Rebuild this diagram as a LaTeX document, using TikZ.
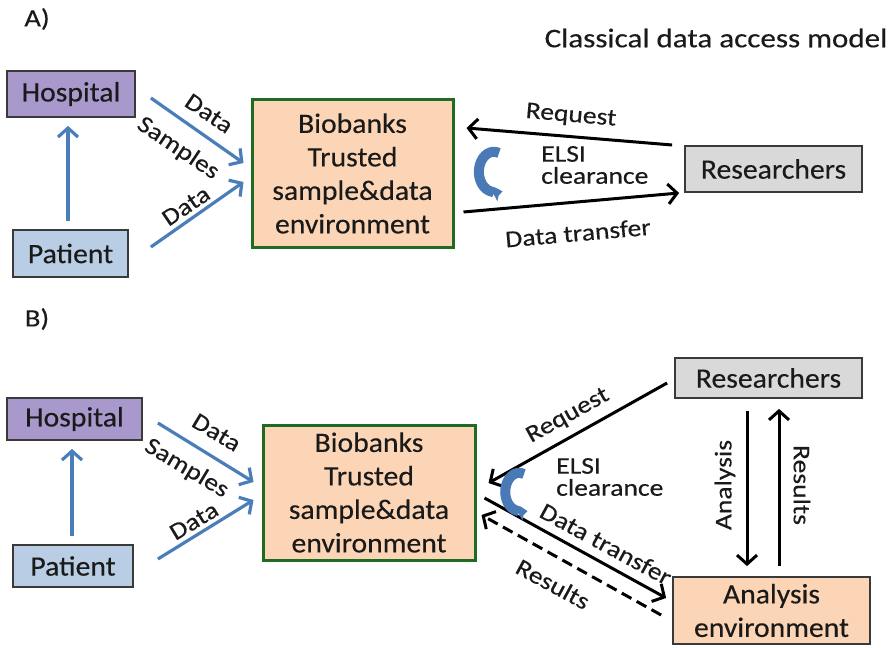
\documentclass[tikz,border=0pt]{standalone}
\usepackage{fontspec}
\setmainfont{Carlito}[FakeStretch=1.06, FakeBold=0.3]
\newfontfamily\lblfont{Carlito}[FakeStretch=1.15, FakeBold=0.3]
\usetikzlibrary{arrows.meta,calc}

\definecolor{hospfill}{HTML}{A898CC}
\definecolor{patfill}{HTML}{B9CDE5}
\definecolor{biofill}{HTML}{FBD5B5}
\definecolor{biogreen}{HTML}{1F6B22}
\definecolor{resfill}{HTML}{D9D9D9}
\definecolor{linkblue}{HTML}{4A7EBB}
\definecolor{turnblue}{HTML}{4A7AB6}
\definecolor{boxline}{HTML}{3A3A3A}
\definecolor{ink}{HTML}{1A1A1A}

\tikzset{
  box/.style={draw=boxline, line width=1.8pt, inner sep=0pt, align=center,
    text=ink, font=\fontsize{28}{33.5}\selectfont},
  hosp/.style={box, fill=hospfill},
  pat/.style={box, fill=patfill},
  res/.style={box, fill=resfill},
  bio/.style={box, draw=biogreen, line width=3pt, fill=biofill},
  anaenv/.style={box, fill=biofill},
  bluelink/.style={draw=linkblue, line width=3.2pt,
    -{Straight Barb[length=9pt,width=20pt]}},
  blacklink/.style={draw=black, line width=3pt,
    -{Straight Barb[length=9pt,width=20pt]}},
  lbl/.style={text=ink, inner sep=1pt, font=\lblfont\fontsize{24}{24}\selectfont},
  elsi/.style={text=ink, inner sep=1pt, anchor=west, align=left,
    font=\lblfont\fontsize{24}{22}\selectfont},
  panel/.style={text=ink, font=\lblfont\fontsize{25}{26}\selectfont},
  turn/.style={draw=turnblue, line width=10pt,
    -{Triangle[length=7pt,width=17pt]}},
}

\begin{document}
\begin{tikzpicture}[x=1pt,y=-1pt]
\path[use as bounding box, fill=white] (0,0) rectangle (890,647);

% ---------- Panel A: classical model ----------
\node[panel] (tagA) at (37,19) {A)};
\node[panel, font=\lblfont\fontsize{27}{28}\selectfont] (title) at (716,38) {Classical data access model};

\node[hosp, minimum width=128pt, minimum height=46pt] (hospA) at (71,94) {Hospital};
\node[pat, minimum width=115pt, minimum height=47pt] (patA) at (70.5,253.5) {Patient};
\node[bio, minimum width=201pt, minimum height=147pt] (bioA) at (352.5,173.5)
  {Biobanks\\Trusted\\sample\&data\\environment};
\node[res, minimum width=177pt, minimum height=46pt] (resA) at (773.5,169) {Researchers};

\draw[bluelink] ($(patA.north)+(-2.5,-8)$) -- ($(hospA.south)+(-3,8)$);
\draw[bluelink] ($(hospA.east)+(15,4)$) -- ($(bioA.west)+(-7,-10.5)$);
\draw[bluelink] ($(patA.east)+(22,-6.5)$) -- ($(bioA.west)+(-7,8.5)$);

\node[lbl, rotate=-34] (dA1) at (209,113.5) {Data};
\node[lbl, rotate=-34] (sA) at (178,148.5) {Samples};
\node[lbl, rotate=34] (dA2) at (186,206) {Data};

\draw[blacklink] ($(resA.west)+(-12,-24)$) -- ($(bioA.east)+(12,-45.5)$);
\draw[blacklink] ($(bioA.east)+(9,38.5)$) -- ($(resA.west)+(-5,24)$);
\node[lbl, rotate=-5] (reqA) at (571,116) {Request};
\node[lbl, rotate=5] (dtA) at (578,233) {Data transfer};

\node[elsi] (elsiA) at (540,165) {ELSI\\clearance};
% curved "clearance" arrow
\draw[turn] (499,153) arc[start angle=-70, end angle=-292, x radius=15, y radius=20];

% ---------- Panel B: remote analysis model ----------
\node[panel] (tagB) at (37,319) {B)};

\node[hosp, minimum width=135pt, minimum height=42pt] (hospB) at (74.5,419) {Hospital};
\node[pat, minimum width=120pt, minimum height=42pt] (patB) at (73,566) {Patient};
\node[bio, minimum width=212pt, minimum height=135pt] (bioB) at (369,492.5)
  {Biobanks\\Trusted\\sample\&data\\environment};
\node[res, minimum width=187pt, minimum height=40pt] (resB) at (768.5,378) {Researchers};
\node[anaenv, minimum width=197pt, minimum height=67pt] (anaB) at (771.5,610.5)
  {Analysis\\environment};

\draw[bluelink] ($(patB.north)+(-1,-8)$) -- ($(hospB.south)+(-2.5,8)$);
\draw[bluelink] ($(hospB.east)+(15,4)$) -- ($(bioB.west)+(-8,-10.5)$);
\draw[bluelink] ($(patB.east)+(24,-7)$) -- ($(bioB.west)+(-8,7.5)$);

\node[lbl, rotate=-31] (dB1) at (216.5,432.5) {Data};
\node[lbl, rotate=-31] (sB) at (186.5,468.5) {Samples};
\node[lbl, rotate=31] (dB2) at (194,521) {Data};

\draw[blacklink] ($(resB.west)+(-7,5)$) -- ($(bioB.east)+(12,-9.5)$);
\draw[blacklink] ($(bioB.east)+(8,5.5)$) -- ($(anaB.west)+(-6,-12.5)$);
\draw[blacklink, dash pattern=on 11pt off 6pt] ($(anaB.west)+(-11,4.5)$) -- ($(bioB.east)+(5,22.5)$);
\node[lbl, rotate=29] (reqB) at (568,416) {Request};
\node[lbl, rotate=-28.5] (dtB) at (606,544) {Data transfer};
\node[lbl, rotate=-28.5] (rsB) at (553,584) {Results};

\node[elsi] (elsiB) at (555,477) {ELSI\\clearance};
\draw[turn] (524,474) arc[start angle=-70, end angle=-292, x radius=14, y radius=19];

\draw[blacklink] ($(resB.south)+(-21.5,12)$) -- ($(anaB.north)+(-24.5,-10)$);
\draw[blacklink] ($(anaB.north)+(7.5,-10)$) -- ($(resB.south)+(10.5,10)$);
\node[lbl, rotate=90] (anB) at (725,485) {Analysis};
\node[lbl, rotate=-90] (reB) at (802,485) {Results};
\end{tikzpicture}
\end{document}
